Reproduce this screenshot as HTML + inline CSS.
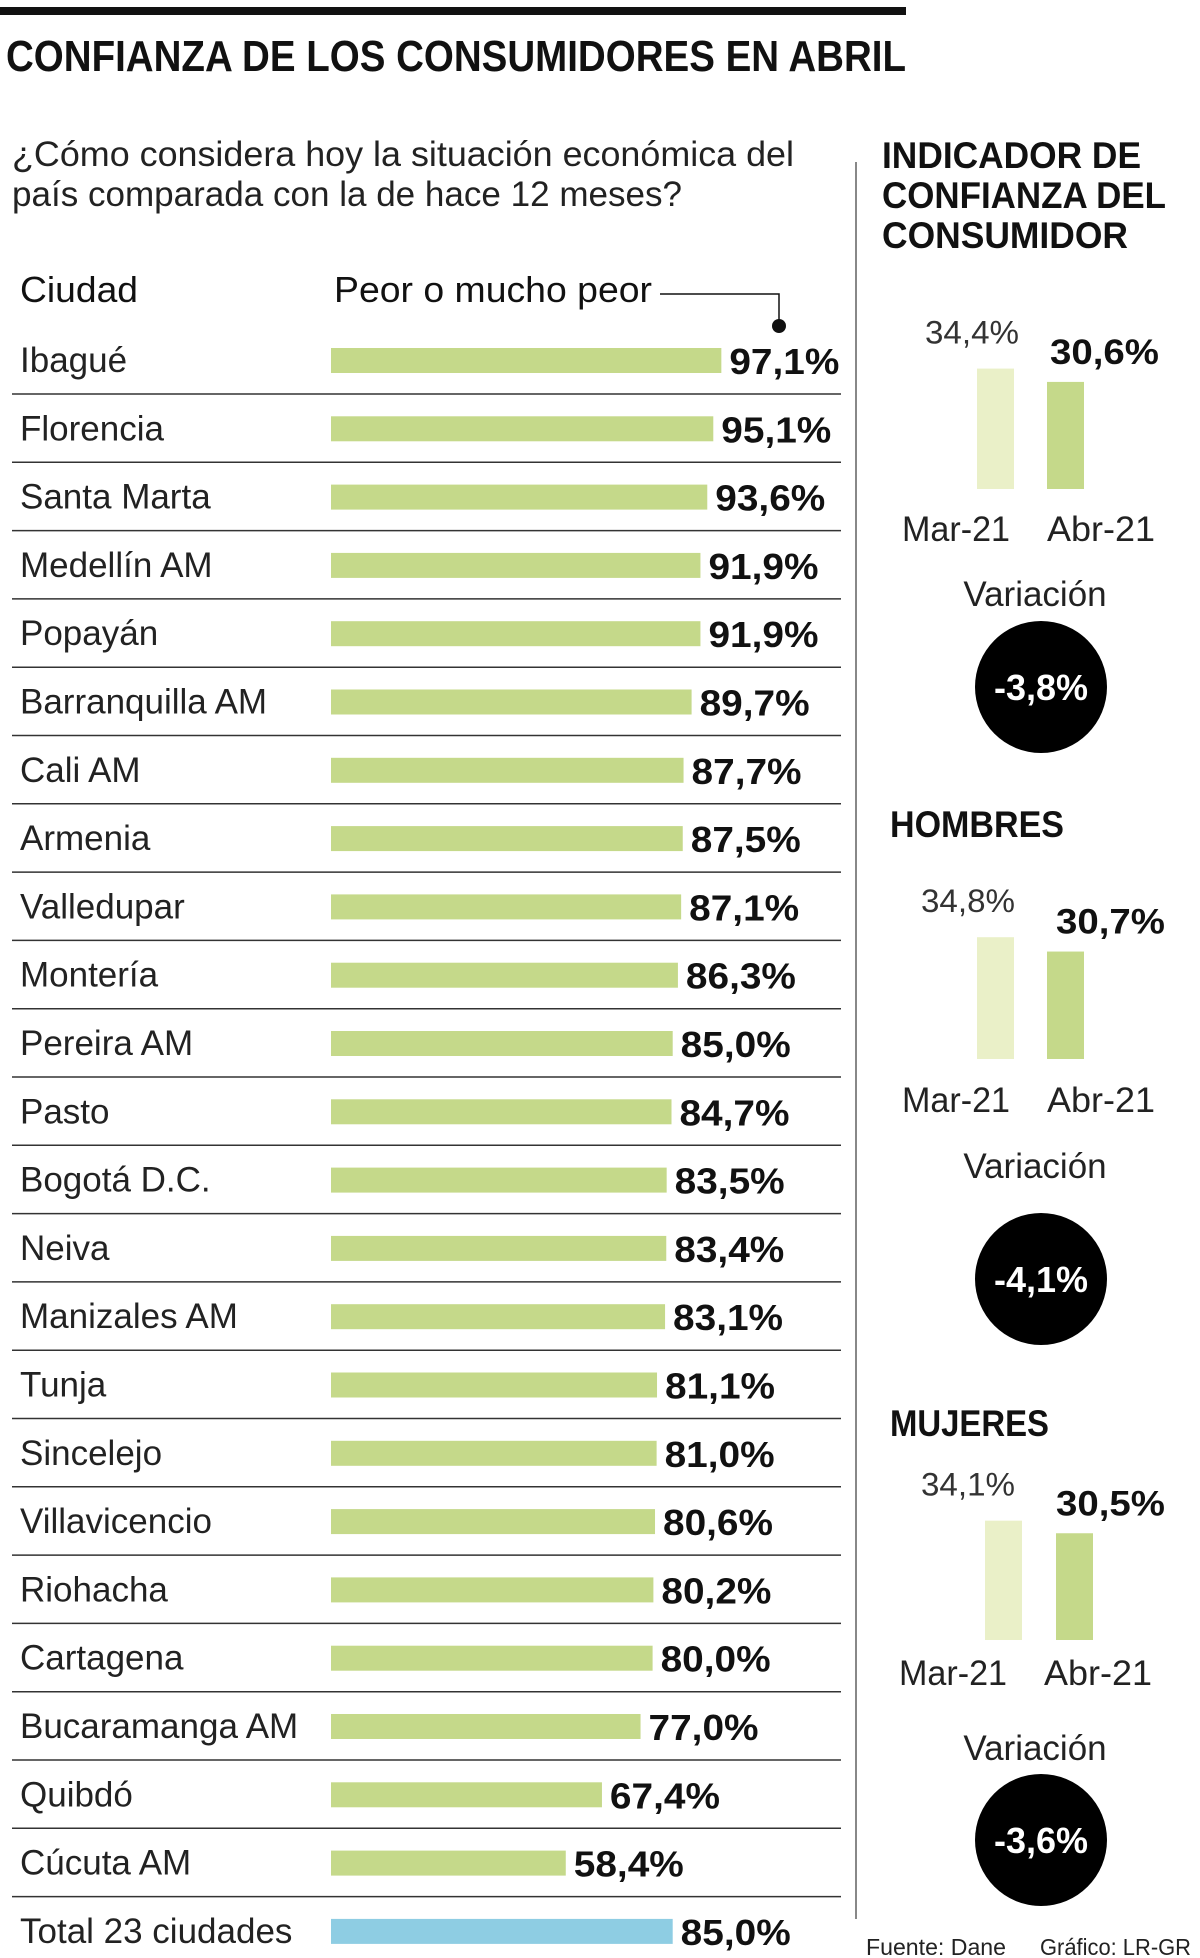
<!DOCTYPE html>
<html><head><meta charset="utf-8"><style>
html,body{margin:0;padding:0;background:#fff}
svg{display:block}
text{font-family:"Liberation Sans",sans-serif}
</style></head><body>
<svg id="chart" width="1200" height="1958" viewBox="0 0 1200 1958" xmlns="http://www.w3.org/2000/svg">
<rect x="0" y="7" width="906" height="8" fill="#111"/>
<text x="6" y="71" font-size="44" font-weight="bold" fill="#111" textLength="900" lengthAdjust="spacingAndGlyphs">CONFIANZA DE LOS CONSUMIDORES EN ABRIL</text>
<text x="12" y="166" font-size="35" fill="#222" textLength="782" lengthAdjust="spacingAndGlyphs">¿Cómo considera hoy la situación económica del</text>
<text x="12" y="206" font-size="35" fill="#222" textLength="670" lengthAdjust="spacingAndGlyphs">país comparada con la de hace 12 meses?</text>
<line x1="856" y1="162" x2="856" y2="1919" stroke="#888" stroke-width="2"/>
<text x="20" y="302" font-size="36" fill="#111" textLength="118" lengthAdjust="spacingAndGlyphs">Ciudad</text>
<text x="334" y="302" font-size="36" fill="#111" textLength="318" lengthAdjust="spacingAndGlyphs">Peor o mucho peor</text>
<polyline points="660,294 779,294 779,325" fill="none" stroke="#111" stroke-width="1.5"/>
<circle cx="779" cy="326" r="7" fill="#111"/>
<g id="rows"></g>
<g id="panel"></g>
<text x="866" y="1955" font-size="23" fill="#222" textLength="140" lengthAdjust="spacingAndGlyphs">Fuente: Dane</text>
<text x="1040" y="1955" font-size="23" fill="#222" textLength="151" lengthAdjust="spacingAndGlyphs">Gráfico: LR-GR</text>
</svg>
<script>
const cities = ["Ibagué","Florencia","Santa Marta","Medellín AM","Popayán","Barranquilla AM","Cali AM","Armenia","Valledupar","Montería","Pereira AM","Pasto","Bogotá D.C.","Neiva","Manizales AM","Tunja","Sincelejo","Villavicencio","Riohacha","Cartagena","Bucaramanga AM","Quibdó","Cúcuta AM","Total 23 ciudades"];
const values = [97.1,95.1,93.6,91.9,91.9,89.7,87.7,87.5,87.1,86.3,85.0,84.7,83.5,83.4,83.1,81.1,81.0,80.6,80.2,80.0,77.0,67.4,58.4,85.0];
const groupTitles = [["INDICADOR DE","CONFIANZA DEL","CONSUMIDOR"],["HOMBRES"],["MUJERES"]];
const periods = ["Mar-21","Abr-21"];
const marValues = [34.4,34.8,34.1];
const abrValues = [30.6,30.7,30.5];
const variations = [-3.8,-4.1,-3.6];

const NS="http://www.w3.org/2000/svg";
function mk(tag,attrs,parent,txt){const e=document.createElementNS(NS,tag);for(const k in attrs)e.setAttribute(k,attrs[k]);if(txt!==undefined)e.textContent=txt;parent.appendChild(e);return e;}
function fmt(v){return v.toFixed(1).replace('.',',')+'%';}
const xBar = v => 331 + v*4.02;
const rowY = i => 360 + i*68.3;
const rows=document.getElementById('rows');
cities.forEach((c,i)=>{
  const cy=rowY(i);
  const t=mk('text',{x:20,y:cy+12,'font-size':35,fill:'#222'},rows,c);
  
  
  const total=i===cities.length-1;
  const b=mk('rect',{x:331,y:cy-12,width:xBar(values[i])-331,height:25,fill:total?'#8ecde3':'#c5d98a'},rows);
  
  
  const v=mk('text',{x:xBar(values[i])+8,y:cy+14,'font-size':36,'font-weight':'bold',fill:'#111',textLength:110,lengthAdjust:'spacingAndGlyphs'},rows,fmt(values[i]));
  
  
  if(i<cities.length-1){
    const l=mk('line',{x1:12,x2:841,y1:cy+34,y2:cy+34,stroke:'#333','stroke-width':1.5},rows);
    
    
  }
});
const panel=document.getElementById('panel');
const tops=[168,837,1436], bottoms=[489,1059,1640], lblY=[541,1112,1685], varY=[606,1178,1760], circY=[687,1279,1840];
const marX=[977,977,985], abrX=[1047,1047,1056];
const marLblX=[972,968,968], abrLblX=[1104,1110,1110];
const perX=[[902,1047],[902,1047],[899,1044]];
const titleLen=[[259,284,246],[174],[159]];
const hScale=v=>v*3.5;
groupTitles.forEach((lines,g)=>{
  lines.forEach((ln,k)=>{
    const t=mk('text',{x:g===0?882:890,y:tops[g]+k*40,'font-size':37,'font-weight':'bold',fill:'#111',textLength:titleLen[g][k],lengthAdjust:'spacingAndGlyphs'},panel,ln);
    
    
  });
  const hm=hScale(marValues[g]), ha=hScale(abrValues[g]);
  const r1=mk('rect',{x:marX[g],y:bottoms[g]-hm,width:37,height:hm,fill:'#eaf0c8'},panel);
  
  
  const r2=mk('rect',{x:abrX[g],y:bottoms[g]-ha,width:37,height:ha,fill:'#c5d98a'},panel);
  
  
  const l1=mk('text',{x:marLblX[g]-47,y:bottoms[g]-hm-25,'font-size':32,fill:'#333',textLength:94,lengthAdjust:'spacingAndGlyphs'},panel,fmt(marValues[g]));
  
  
  const l2=mk('text',{x:abrLblX[g]-54,y:bottoms[g]-ha-18,'font-size':35,'font-weight':'bold',fill:'#111',textLength:109,lengthAdjust:'spacingAndGlyphs'},panel,fmt(abrValues[g]));
  
  
  periods.forEach((p,k)=>{
    const t=mk('text',{x:perX[g][k],y:lblY[g],'font-size':35,fill:'#222',textLength:108,lengthAdjust:'spacingAndGlyphs'},panel,p);
    
    
  });
  const vt=mk('text',{x:1035,y:varY[g],'font-size':35,fill:'#222','text-anchor':'middle'},panel,'Variación');
  
  
  const c=mk('circle',{cx:1041,cy:circY[g],r:66,fill:'#000'},panel);
  
  
  const ct=mk('text',{x:1041,y:circY[g]+13,'font-size':36,'font-weight':'bold',fill:'#fff','text-anchor':'middle'},panel,fmt(variations[g]));
  
  
});
</script>
</body></html>
